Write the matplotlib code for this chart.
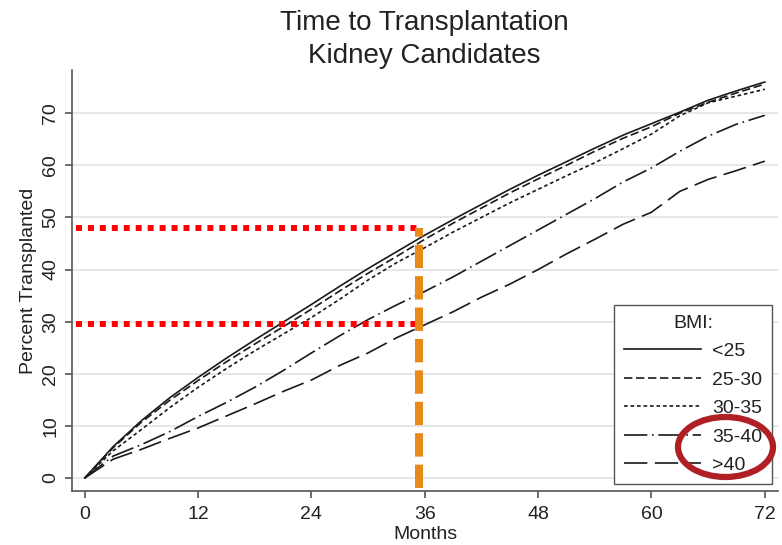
import matplotlib
matplotlib.use('Agg')
import matplotlib.pyplot as plt
from matplotlib.patches import Ellipse

plt.rcParams['font.family'] = ['Liberation Sans', 'DejaVu Sans']

#---------------------------------------------------------
#Data
#---------------------------------------------------------

months = [0, 3, 6, 9, 12, 15, 18, 21, 24, 27, 30, 33, 36, 39, 42, 45,
          48, 51, 54, 57, 60, 63, 66, 69, 72]

bmi_lt25 = [0, 6.0, 11.0, 15.4, 19.3, 23.0, 26.5, 29.9, 33.3, 36.8, 40.2, 43.4,
            46.6, 49.6, 52.5, 55.4, 58.1, 60.7, 63.3, 65.8, 68.0, 70.2, 72.5, 74.3, 76.0]
bmi_25_30 = [0, 5.8, 10.7, 14.9, 18.7, 22.3, 25.7, 29.0, 32.4, 35.9, 39.3, 42.5,
             45.8, 48.9, 51.8, 54.7, 57.4, 60.0, 62.7, 65.2, 67.4, 70.0, 72.1, 73.9, 75.6]
bmi_30_35 = [0, 5.2, 9.3, 13.5, 17.4, 21.0, 24.4, 27.6, 30.8, 34.3, 38.0, 41.3,
             44.2, 47.2, 50.0, 52.8, 55.4, 58.0, 60.5, 63.2, 66.0, 69.5, 72.0, 73.3, 74.6]
bmi_35_40 = [0, 4.2, 6.4, 8.9, 11.8, 14.5, 17.4, 20.6, 24.0, 27.3, 30.4, 33.2,
             35.8, 38.6, 41.6, 44.6, 47.6, 50.6, 53.6, 56.8, 59.5, 62.7, 65.6, 67.9, 69.6]
bmi_gt40 = [0, 3.6, 5.5, 7.6, 9.6, 11.9, 14.2, 16.6, 18.8, 21.6, 24.0, 26.9,
            29.4, 31.9, 34.7, 37.2, 40.0, 43.0, 45.8, 48.7, 51.0, 55.0, 57.3, 59.0, 60.8]

labels = ['<25', '25-30', '30-35', '35-40', '>40']
series = [bmi_lt25, bmi_25_30, bmi_30_35, bmi_35_40, bmi_gt40]
dash_styles = ['-', (0, (5, 2.2)), (0, (2.2, 1.7)), (0, (14, 2.8, 1, 2.8)), (0, (14, 4.5))]

x_ticks = [0, 12, 24, 36, 48, 60, 72]
y_ticks = [0, 10, 20, 30, 40, 50, 60, 70]

# reference marks drawn on the chart
ref_month = 35.4
ref_levels = [48, 29.6]

#---------------------------------------------------------
#Plot
#---------------------------------------------------------

fig = plt.figure(figsize=(7.82, 5.45), dpi=100)
ax = fig.add_axes([72 / 782, 1 - 491 / 545, 706 / 782, 421 / 545])

for vals, lab, ls in zip(series, labels, dash_styles):
    ax.plot(months, vals, color='#1a1a1a', lw=1.2, linestyle=ls, label=lab,
            dash_capstyle='butt')

for lvl in ref_levels:
    ax.plot([-0.95, ref_month], [lvl, lvl], color='#ff0000', lw=4.3,
            linestyle=(0, (1, 1)), dash_capstyle='butt', zorder=5)
ax.plot([ref_month, ref_month], [-1.9, ref_levels[0]], color='#e8891c', lw=5.8,
        linestyle=(0, (2.9, 1.0)), dash_capstyle='butt', zorder=6)

ax.set_xlim(-1.35, 73.4)
ax.set_ylim(-2.5, 78.3)
ax.set_xticks(x_ticks)
ax.set_yticks(y_ticks)
ax.set_yticklabels([str(v) for v in y_ticks], rotation=90, va='center')
ax.tick_params(axis='both', labelsize=14, length=5, width=1.2, color='#555555',
               labelcolor='#222222', pad=6)
ax.tick_params(axis='y', pad=4)
ax.grid(axis='y', color='#e3e3e3', lw=1.2)
ax.set_axisbelow(True)

for side in ['top', 'right']:
    ax.spines[side].set_visible(False)
for side in ['left', 'bottom']:
    ax.spines[side].set_color('#555555')
    ax.spines[side].set_linewidth(1.2)

ax.set_xlabel('Months', fontsize=14, color='#222222', labelpad=2)
ax.set_ylabel('Percent Transplanted', fontsize=14, color='#222222')
ax.yaxis.set_label_coords(-0.05, 0.5)

fig.text(424.5 / 782, 1 - 30 / 545, 'Time to Transplantation', fontsize=20,
         ha='center', va='baseline', color='#222222')
fig.text(424.5 / 782, 1 - 63 / 545, 'Kidney Candidates', fontsize=20,
         ha='center', va='baseline', color='#222222')

leg = ax.legend(loc='lower right', bbox_to_anchor=(0.9915, 0.0166), borderaxespad=0,
                title='BMI:', fontsize=14, title_fontsize=14, handlelength=4,
                handletextpad=0.55, labelspacing=0.56, borderpad=0.5,
                fancybox=False, framealpha=1, edgecolor='#555555')
leg.get_frame().set_linewidth(1.0)
for t in leg.get_texts():
    t.set_color('#222222')
leg.get_title().set_color('#222222')

# red highlight circle around the 35-40 entry
fig.add_artist(Ellipse((725.5 / 782, 1 - 447 / 545), 95 / 782, 60 / 545,
                       transform=fig.transFigure, fill=False,
                       edgecolor='#b01f24', lw=4.5, zorder=10))

plt.savefig('out.png', dpi=100)
